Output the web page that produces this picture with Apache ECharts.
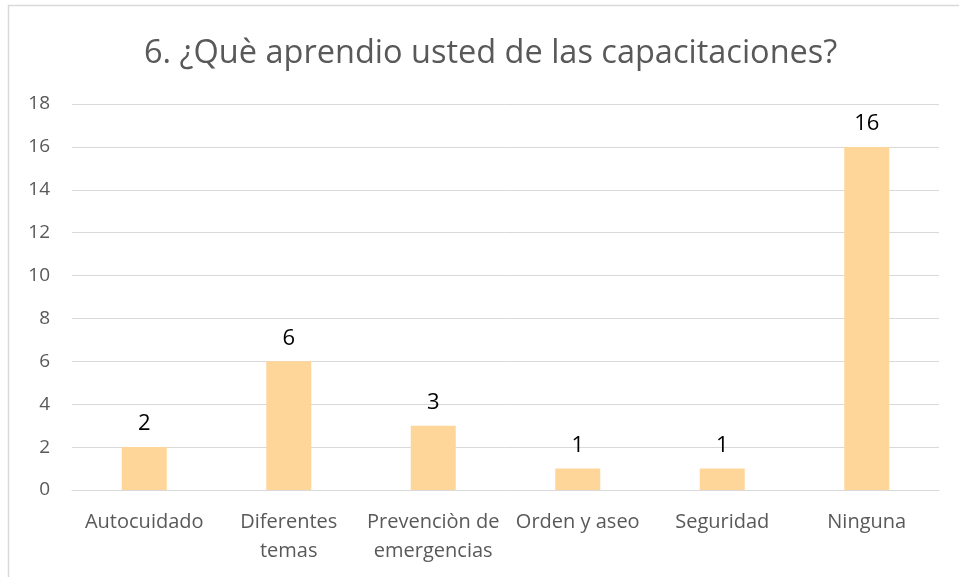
<!DOCTYPE html>
<html><head><meta charset="utf-8">
<script src="https://cdn.jsdelivr.net/npm/echarts@6/dist/echarts.min.js"></script>
<style>html,body{margin:0;padding:0;background:#fff}#c{width:959px;height:577px}</style>
</head><body><div id="c"></div>
<script>
const titleText = "6. ¿Què aprendio usted de las capacitaciones?";
const categories = ["Autocuidado", "Diferentes\ntemas", "Prevenciòn de\nemergencias", "Orden y aseo", "Seguridad", "Ninguna"];
const values = [2, 6, 3, 1, 1, 16];
const yMin = 0, yMax = 18, yInterval = 2;

const chart = echarts.init(document.getElementById('c'), null, {renderer: 'canvas'});
const font = '"Open Sans", "Noto Sans", sans-serif';
chart.setOption({
  animation: false,
  graphic: [{type: 'rect', shape: {x: 8.5, y: 5.5, width: 970, height: 590}, style: {fill: 'none', stroke: '#d9d9d9', lineWidth: 1.5}, silent: true}],
  title: {text: titleText, left: 139, top: 32, textStyle: {fontFamily: font, fontSize: 32.5, fontWeight: 'normal', color: '#595959'}},
  grid: {left: 72, right: 20, top: 104, bottom: 87, containLabel: false},
  xAxis: {type: 'category', data: categories,
    axisLine: {show: true, lineStyle: {color: '#d9d9d9', width: 1}}, axisTick: {show: false},
    axisLabel: {interval: 0, margin: 18, fontFamily: font, fontSize: 20, color: '#595959', lineHeight: 29}},
  yAxis: {type: 'value', min: yMin, max: yMax, interval: yInterval,
    axisLine: {show: false}, axisTick: {show: false},
    splitLine: {lineStyle: {color: '#d9d9d9', width: 1}},
    axisLabel: {margin: 22, fontFamily: font, fontSize: 19, color: '#595959'}},
  series: [{type: 'bar', data: values, barWidth: 45,
    itemStyle: {color: '#FFD699'},
    label: {show: true, position: 'top', distance: 12, fontFamily: font, fontSize: 22, color: '#000'}}]
});
</script></body></html>
